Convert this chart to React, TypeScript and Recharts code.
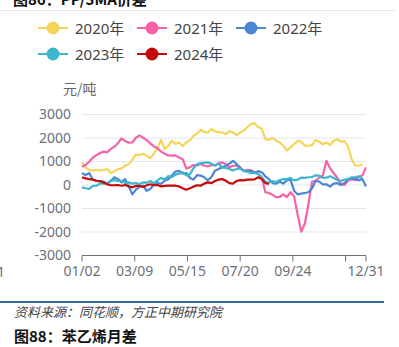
import { LineChart, Line, XAxis, YAxis, CartesianGrid } from 'recharts';

// sampled every 3 trading days, starting 01/02
const STEP_DAYS = 3;

const SERIES_NAMES = ['2020年', '2021年', '2022年', '2023年', '2024年'];
const SERIES_COLORS = ['#F5D45B', '#F562A8', '#4A86D4', '#3DB6CE', '#C40A0A'];

const Y2020 = [
  960, 750, 640, 610, 650, 610, 640, 680, 510, 590,
  670, 710, 820, 880, 1080, 1300, 1270, 1330, 1250, 1130,
  1340, 1580, 1920, 1530, 1670, 1880, 1750, 1810, 1660, 1810,
  1900, 2090, 2180, 2350, 2250, 2240, 2380, 2290, 2240, 2240,
  2160, 2290, 2240, 2120, 2240, 2320, 2460, 2600, 2630, 2460,
  2410, 1950, 1920, 2010, 1880, 1810, 1670, 1460, 1600, 1740,
  1880, 1840, 1670, 1670, 1700, 1920, 1840, 1730, 1810, 1700,
  1880, 1950, 1840, 1870, 1640, 1100, 820, 830, 880,
];

const Y2021 = [
  780, 850, 990, 1160, 1270, 1360, 1420, 1390, 1530, 1630,
  1780, 1980, 1870, 1800, 1810, 2010, 2110, 2010, 1910, 1770,
  1640, 1560, 1420, 1330, 1260, 1250, 1260, 1170, 1100, 710,
  750, 850, 830, 890, 820, 790, 850, 830, 930, 960,
  890, 760, 820, 820, 760, 590, 650, 620, 550, 480,
  330, -310, -340, -420, -520, -510, -400, -510, -310, -480,
  -1270, -1980, -1640, -800, 140, 180, 310, 400, 1030, 710,
  510, 310, 60, 0, 180, 250, 210, 330, 420, 750,
];

const Y2022 = [
  510, 420, 510, 230, 170, 140, 140, 60, 180, 330,
  250, 110, 250, -60, -400, -200, -70, -30, -250, -170,
  30, 100, 40, 180, 250, 400, 570, 600, 480, 510,
  300, 230, 420, 400, 330, 200, 340, 610, 680, 750,
  820, 910, 1030, 890, 710, 610, 580, 610, 500, 590,
  540, 370, 250, 80, 60, 140, 60, 200, 230, -240,
  -400, -370, -340, -310, -140, 180, 140, 30, 30, -70,
  60, 80, 0, 80, 250, 280, 250, 200, 250, -60,
];

const Y2023 = [
  -100, -140, -170, -40, -30, 60, 60, 80, 170, 210,
  160, 180, 80, 110, 60, 80, 40, 110, 100, 170,
  70, 200, 300, 240, 380, 340, 440, 480, 540, 410,
  450, 710, 880, 930, 940, 960, 910, 830, 910, 750,
  730, 680, 620, 680, 710, 590, 570, 500, 520, 470,
  330, 140, 100, 170, 130, 210, 250, 250, 300, 200,
  230, 310, 300, 330, 340, 410, 400, 300, 310, 370,
  300, 210, 170, 230, 250, 330, 340, 370, 280,
];

const Y2024 = [
  330, 280, 250, 230, 180, 170, 110, 30, -10, -10,
  0, -30, 0, -60, -100, -40, -40, -80, -10, 30,
  -10, 0, -60, -40, -30, -30, -30, -60, -140, -200,
  -140, -70, -10, -30, 60, 110, 80, 170, 230, 250,
  180, 80, 60, 170, 210, 200, 230, 230, 240, 330,
  250, 80, 40,
];

const TICK_DAYS = [0, 44, 88, 132, 176, 220, 237];
const TICK_LABELS = ['01/02', '03/09', '05/15', '07/20', '09/24', '', '12/31'];
const Y_TICKS = [-3000, -2000, -1000, 0, 1000, 2000, 3000];

const SERIES = [Y2020, Y2021, Y2022, Y2023, Y2024];
const KEYS = ['y2020', 'y2021', 'y2022', 'y2023', 'y2024'];

const rows = Y2021.map((_, k) => {
  const row: Record<string, number | undefined> = { day: k * STEP_DAYS };
  SERIES.forEach((s, j) => {
    row[KEYS[j]] = s[k];
  });
  return row;
});

const FONT = '"Noto Sans", "Noto Sans CJK SC", sans-serif';
const CJK = '"Noto Sans CJK SC", "Noto Sans", sans-serif';
const AXIS_GRAY = '#6e7079';

const XTick = ({ x, y, payload }: any) => {
  const i = TICK_DAYS.indexOf(payload.value);
  return (
    <text x={x} y={y} dy="0.71em" textAnchor="middle" fill={AXIS_GRAY} fontSize={14} fontFamily={FONT}>
      {TICK_LABELS[i]}
    </text>
  );
};

const YTick = ({ x, y, payload }: any) => (
  <text x={x} y={y} dy="0.355em" textAnchor="end" fill={AXIS_GRAY} fontSize={14} fontFamily={FONT}>
    {payload.value}
  </text>
);

const LEGEND_POS = [
  [38, 28],
  [137, 28],
  [236, 28],
  [38, 54],
  [137, 54],
];

export default function App() {
  return (
    <div style={{ position: 'absolute', left: 0, top: 0, width: 399, height: 347, overflow: 'hidden', background: '#fff' }}>
      {/* cut-off caption of the previous figure */}
      <div style={{ position: 'absolute', left: 13, top: -12, fontFamily: CJK, fontWeight: 700, fontSize: 15, color: '#111', whiteSpace: 'nowrap' }}>
        图86：PP/3MA价差
      </div>
      <div style={{ position: 'absolute', left: 0, top: 10, width: 395, height: 1, background: '#e6e6e6' }} />

      {SERIES_NAMES.map((name, j) => (
        <div key={name} style={{ position: 'absolute', left: LEGEND_POS[j][0], top: LEGEND_POS[j][1] - 10, height: 20, display: 'flex', alignItems: 'center' }}>
          <svg width={30} height={16}>
            <line x1={0} y1={8} x2={30} y2={8} stroke={SERIES_COLORS[j]} strokeWidth={2} />
            <circle cx={15} cy={8} r={6.5} fill={SERIES_COLORS[j]} />
          </svg>
          <span style={{ marginLeft: 7, fontFamily: FONT, fontSize: 15, color: '#444', lineHeight: '20px', whiteSpace: 'nowrap' }}>{name}</span>
        </div>
      ))}

      <div style={{ position: 'absolute', left: 63, top: 78, fontFamily: CJK, fontSize: 14, color: '#666', lineHeight: '20px' }}>元/吨</div>
      <div style={{ position: 'absolute', left: -3, top: 262, fontFamily: FONT, fontSize: 14, color: AXIS_GRAY, lineHeight: '20px' }}>1</div>

      <div style={{ position: 'absolute', left: 0, top: 0 }}>
        <LineChart width={399} height={300} data={rows} margin={{ top: 114.5, right: 33, bottom: 14.5, left: 22 }}>
          <CartesianGrid vertical={false} stroke="#e0e6f1" />
          <XAxis
            dataKey="day"
            type="number"
            domain={[0, 237]}
            ticks={TICK_DAYS}
            interval={0}
            height={30}
            axisLine={{ stroke: AXIS_GRAY }}
            tickLine={{ stroke: AXIS_GRAY }}
            tickSize={6}
            tickMargin={5}
            tick={<XTick />}
          />
          <YAxis
            type="number"
            domain={[-3000, 3000]}
            ticks={Y_TICKS}
            interval={0}
            width={60}
            axisLine={false}
            tickLine={false}
            tickSize={0}
            tickMargin={11}
            tick={<YTick />}
          />
          {KEYS.map((k, j) => (
            <Line
              key={k}
              dataKey={k}
              name={SERIES_NAMES[j]}
              stroke={SERIES_COLORS[j]}
              strokeWidth={2.2}
              dot={false}
              activeDot={false}
              isAnimationActive={false}
              strokeLinejoin="round"
            />
          ))}
        </LineChart>
      </div>

      <div style={{ position: 'absolute', left: 0, top: 301, width: 384, height: 1.5, background: '#2f6b9a' }} />
      <div style={{ position: 'absolute', left: 14, top: 302, fontFamily: CJK, fontStyle: 'italic', fontSize: 13, color: '#444', lineHeight: '20px', whiteSpace: 'nowrap' }}>
        资料来源：同花顺，方正中期研究院
      </div>
      <div style={{ position: 'absolute', left: 14, top: 326, fontFamily: CJK, fontWeight: 700, fontSize: 15, color: '#111', lineHeight: '20px', whiteSpace: 'nowrap' }}>
        图88：苯乙烯月差
      </div>
    </div>
  );
}
